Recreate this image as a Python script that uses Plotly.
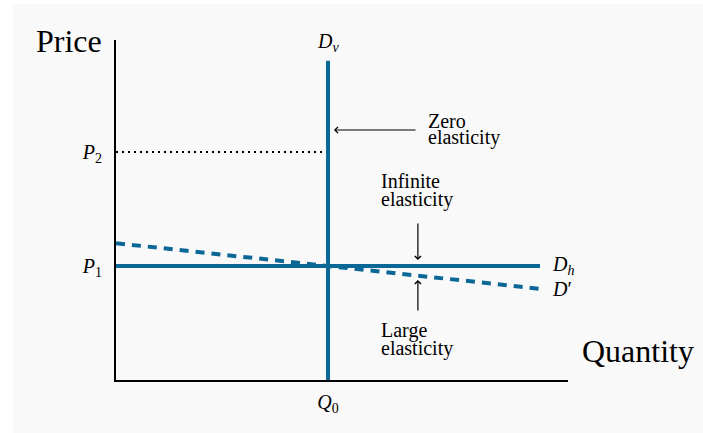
import plotly.graph_objects as go

# ---- data ----
Q0 = 5.0                 # quantity where curves meet
P1 = 2.0                 # price level of horizontal demand
P2 = 4.0                 # higher price level (dotted guide)
dv_x = [5.0, 5.0]        # vertical demand D_v
dv_y = [0.0, 5.6]
dh_x = [0.0, 10.0]       # horizontal demand D_h
dh_y = [2.0, 2.0]
dp_x = [0.0, 10.0]       # large-elasticity demand D'
dp_y = [2.4, 1.6]
p2_x = [0.0, 5.0]        # dotted guide at P2
p2_y = [4.0, 4.0]
x_ticks = [Q0]
x_ticktext = ["<i>Q</i><sub>0</sub>"]
y_ticks = [P1, P2]
y_ticktext = ["<i>P</i><sub>1</sub>", "<i>P</i><sub>2</sub>"]

BLUE = "#0b6796"
BG = "#f9f9f9"
SERIF = "Liberation Serif, Times New Roman, serif"

fig = go.Figure()
fig.add_trace(go.Scatter(x=p2_x, y=p2_y, mode="lines",
                         line=dict(color="black", width=2, dash="2px,4px"),
                         hoverinfo="skip", showlegend=False))
fig.add_trace(go.Scatter(x=dh_x, y=dh_y, mode="lines",
                         line=dict(color=BLUE, width=4),
                         hoverinfo="skip", showlegend=False))
fig.add_trace(go.Scatter(x=dv_x, y=dv_y, mode="lines",
                         line=dict(color=BLUE, width=4),
                         hoverinfo="skip", showlegend=False))
fig.add_trace(go.Scatter(x=dp_x, y=dp_y, mode="lines",
                         line=dict(color=BLUE, width=4, dash="9px,7px"),
                         hoverinfo="skip", showlegend=False))

ann = []
txt = dict(family=SERIF, size=20, color="black")
# axis titles
ann.append(dict(text="Price", xref="paper", yref="paper", x=0, y=1,
                xanchor="right", yanchor="middle", xshift=-12, yshift=-1,
                showarrow=False, font=dict(family=SERIF, size=32, color="black")))
ann.append(dict(text="Quantity", xref="paper", yref="paper", x=1, y=0,
                xanchor="left", yanchor="middle", xshift=12, yshift=29,
                showarrow=False, font=dict(family=SERIF, size=32, color="black")))
# curve labels
ann.append(dict(text="<i>D</i><sub><i>v</i></sub>", x=dv_x[1], y=dv_y[1], xanchor="center",
                yanchor="bottom", yshift=4, showarrow=False, font=txt))
ann.append(dict(text="<i>D</i><sub><i>h</i></sub>", x=dh_x[1], y=dh_y[1], xanchor="left",
                yanchor="middle", xshift=10, yshift=1, showarrow=False, font=txt))
ann.append(dict(text="<i>D</i>′", x=dp_x[1], y=dp_y[1], xanchor="left",
                yanchor="middle", xshift=10, yshift=0, showarrow=False, font=txt))
# text notes (one annotation per line for tight spacing)
ann.append(dict(text="Zero", x=7.3, y=4.544, xanchor="left", yanchor="middle",
                showarrow=False, font=txt))
ann.append(dict(text="elasticity", x=7.3, y=4.246, xanchor="left", yanchor="middle",
                showarrow=False, font=txt))
ann.append(dict(text="Infinite", x=6.2, y=3.49, xanchor="left", yanchor="middle",
                showarrow=False, font=txt))
ann.append(dict(text="elasticity", x=6.2, y=3.175, xanchor="left", yanchor="middle",
                showarrow=False, font=txt))
ann.append(dict(text="Large", x=6.2, y=0.877, xanchor="left", yanchor="middle",
                showarrow=False, font=txt))
ann.append(dict(text="elasticity", x=6.2, y=0.544, xanchor="left", yanchor="middle",
                showarrow=False, font=txt))
# arrows
arrow = dict(text="", showarrow=True, arrowhead=4, arrowwidth=1.2, arrowsize=1,
             arrowcolor="black", axref="x", ayref="y", standoff=0, startstandoff=0)
ann.append(dict(x=5.14, y=4.386, ax=7.10, ay=4.386, **arrow))
ann.append(dict(x=7.12, y=2.105, ax=7.12, ay=2.77, **arrow))
ann.append(dict(x=7.12, y=1.754, ax=7.12, ay=1.193, **arrow))

fig.update_layout(
    width=703, height=429,
    margin=dict(l=116, r=135, t=36, b=53),
    paper_bgcolor=BG, plot_bgcolor=BG,
    showlegend=False,
    annotations=ann,
    shapes=[
        dict(type="rect", xref="paper", yref="paper", layer="above",
             x0=-0.27, x1=-0.2279, y0=-0.2, y1=1.2, fillcolor="white", line_width=0),
    ],
    xaxis=dict(range=[0, 10.66], showgrid=False, zeroline=False,
               showline=True, linecolor="black", linewidth=2,
               tickvals=x_ticks, ticktext=x_ticktext, ticks="outside", ticklen=3,
               tickcolor="rgba(0,0,0,0)", tickfont=dict(family=SERIF, size=20, color="black")),
    yaxis=dict(range=[0, 5.965], showgrid=False, zeroline=False,
               showline=True, linecolor="black", linewidth=2,
               tickvals=y_ticks, ticktext=y_ticktext, ticks="outside", ticklen=8,
               tickcolor="rgba(0,0,0,0)", tickfont=dict(family=SERIF, size=20, color="black")),
)

fig.write_html("out.html",
               post_script="document.body.style.margin='4px 0 0 0';document.body.style.overflow='hidden';")
